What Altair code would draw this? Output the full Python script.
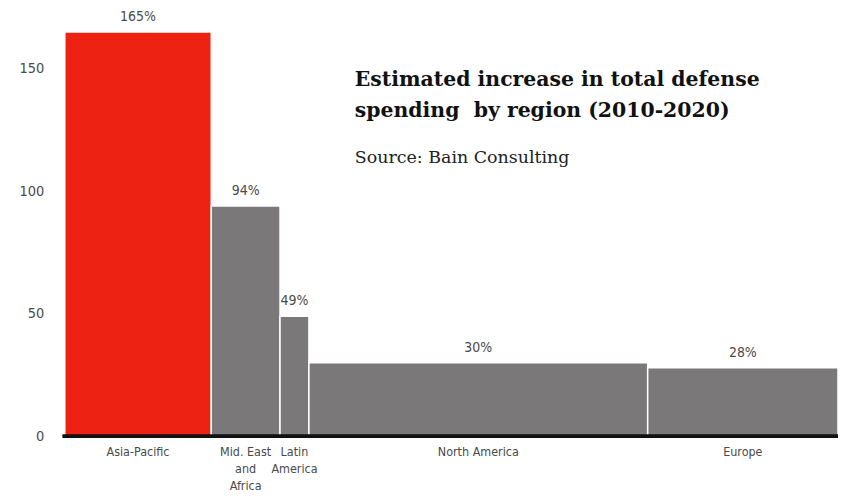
import altair as alt
import pandas as pd

# ---- data ----
regions = ["Asia-Pacific", "Mid. East and Africa", "Latin America", "North America", "Europe"]
axis_labels = ["Asia-Pacific", "Mid. East\nand\nAfrica", "Latin\nAmerica", "North America", "Europe"]
increase = [165, 94, 49, 30, 28]
value_labels = ["165%", "94%", "49%", "30%", "28%"]
bar_widths = [147, 69, 29, 340, 191]          # relative width of each region's column
highlight = ["hi", "lo", "lo", "lo", "lo"]
y_ticks = [0, 50, 100, 150]
title_lines = ["Estimated increase in total defense", "spending\u00a0 by region (2010-2020)"]
source_text = "Source: Bain Consulting"

RED = "#EE2212"
GRAY = "#7A7878"
TXT = "#4A4A4A"
SANS = "Liberation Sans Narrow, DejaVu Sans Condensed, Liberation Sans, sans-serif"
SERIF = "DejaVu Serif, Liberation Serif, serif"

x0, x1, mid = [], [], []
acc = 0
for w in bar_widths:
    x0.append(acc)
    x1.append(acc + w)
    mid.append(acc + w / 2)
    acc += w
total = acc

df = pd.DataFrame({
    "region": regions,
    "xlabel": axis_labels,
    "increase": increase,
    "vlabel": value_labels,
    "x0": x0,
    "x1": x1,
    "mid": mid,
    "hl": highlight,
})

xscale = alt.Scale(domain=[0, total], nice=False, zero=False)
yscale = alt.Scale(domain=[0, 170], nice=False)

base = alt.Chart(df)

bars = base.mark_rect(stroke="white", strokeWidth=1.5).encode(
    x=alt.X("x0:Q", scale=xscale, axis=None),
    x2="x1:Q",
    y=alt.Y("increase:Q", scale=yscale,
            axis=alt.Axis(values=y_ticks, domain=False, ticks=False, grid=False,
                          labelPadding=21, labelFontSize=14.5, labelColor=TXT,
                          labelFont=SANS, title=None)),
    y2=alt.datum(0),
    color=alt.Color("hl:N", scale=alt.Scale(domain=["hi", "lo"], range=[RED, GRAY]), legend=None),
)

baseline = base.mark_rule(color="#111111", strokeWidth=3).encode(
    x=alt.value(-2), x2=alt.value(total + 2), y=alt.datum(0)
)

vlabels = base.mark_text(baseline="bottom", dy=-8, fontSize=14, color=TXT, font=SANS).encode(
    x=alt.X("mid:Q", scale=xscale), y=alt.Y("increase:Q", scale=yscale), text="vlabel:N"
)

xlabels = base.mark_text(baseline="top", dy=10, fontSize=12.5, color=TXT, font=SANS,
                         lineBreak="\n", lineHeight=17).encode(
    x=alt.X("mid:Q", scale=xscale), y=alt.datum(0), text="xlabel:N"
)

t1 = alt.Chart(pd.DataFrame({"t": [title_lines[0]]})).mark_text(
    align="left", baseline="alphabetic", font=SERIF, fontWeight="bold", fontSize=20.5, color="#111111"
).encode(x=alt.value(291), y=alt.value(66), text="t:N")
t2 = alt.Chart(pd.DataFrame({"t": [title_lines[1]]})).mark_text(
    align="left", baseline="alphabetic", font=SERIF, fontWeight="bold", fontSize=20.5, color="#111111"
).encode(x=alt.value(291), y=alt.value(98), text="t:N")
src = alt.Chart(pd.DataFrame({"t": [source_text]})).mark_text(
    align="left", baseline="alphabetic", font=SERIF, fontSize=17.5, color="#222222"
).encode(x=alt.value(291), y=alt.value(144), text="t:N")

chart = alt.layer(bars, baseline, vlabels, xlabels, t1, t2, src).properties(
    width=776, height=418,
    autosize=alt.AutoSizeParams(type="none"),
    padding={"left": 57, "top": 11, "right": 0, "bottom": 55},
).configure_view(stroke=None)

chart.save("out.html", embed_options={"renderer": "svg", "actions": False})
